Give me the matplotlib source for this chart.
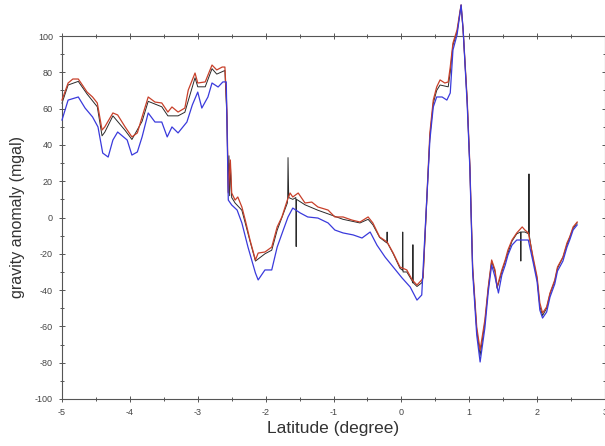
import numpy as np
import matplotlib.pyplot as plt
from matplotlib.ticker import MultipleLocator

plt.rcParams['font.family'] = ['Liberation Sans', 'DejaVu Sans']
plt.rcParams['axes.unicode_minus'] = False

# red profile (upper)
red_lat = [-5.0, -4.91, -4.84, -4.76, -4.70, -4.63, -4.55, -4.48, -4.41, -4.37,
           -4.25, -4.18, -4.07, -3.97, -3.89, -3.82, -3.73, -3.63, -3.53, -3.44,
           -3.38, -3.29, -3.19, -3.14, -3.04, -3.00, -2.89, -2.79, -2.72, -2.64,
           -2.60, -2.57, -2.55, -2.52, -2.50, -2.45, -2.41, -2.35, -2.30, -2.23,
           -2.15, -2.11, -2.01, -1.91, -1.83, -1.76, -1.68, -1.64, -1.60, -1.52,
           -1.42, -1.32, -1.23, -1.08, -0.98, -0.86, -0.73, -0.61, -0.49, -0.42,
           -0.32, -0.21, -0.12, -0.02, 0.08, 0.16, 0.23, 0.30, 0.32, 0.42,
           0.47, 0.52, 0.57, 0.64, 0.69, 0.72, 0.76, 0.82, 0.86, 0.88,
           0.91, 0.97, 1.01, 1.05, 1.11, 1.16, 1.23, 1.28, 1.33, 1.38,
           1.41, 1.48, 1.53, 1.57, 1.63, 1.70, 1.78, 1.82, 1.87, 1.94,
           2.00, 2.04, 2.08, 2.14, 2.19, 2.26, 2.30, 2.38, 2.44, 2.48,
           2.53, 2.59]
red_val = [64.7, 74.1, 76.3, 76.3, 73.0, 69.1, 66.4, 63.1, 48.2, 49.9,
           57.6, 56.5, 49.9, 44.4, 46.6, 55.4, 66.4, 63.6, 63.1, 58.1,
           60.9, 58.1, 60.3, 70.2, 79.6, 74.1, 74.7, 84.0, 81.3, 82.9,
           82.9, 59.0, 13.5, 31.7, 13.5, 9.6, 11.3, 5.8, -1.4, -12.4,
           -23.4, -19.6, -19.0, -16.3, -5.2, 0.3, 9.6, 13.5, 11.3, 13.5,
           8.0, 8.5, 5.8, 4.1, 0.3, 0.3, -1.4, -2.5, 0.3, -3.0,
           -10.7, -13.5, -19.6, -27.3, -28.9, -34.4, -37.2, -34.4, -32.8, 46.6,
           64.7, 71.9, 75.8, 74.1, 74.7, 82.9, 96.1, 103.3, 112.7, 117.1,
           103.3, 64.7, 27.8, -27.3, -60.3, -73.0, -56.5, -38.3, -23.4, -28.9,
           -38.3, -28.9, -23.4, -17.9, -12.4, -8.5, -5.2, -6.9, -8.5, -21.8,
           -32.8, -47.1, -52.6, -49.3, -41.6, -34.4, -27.3, -21.8, -14.0, -10.7,
           -5.2, -2.5]

# blue profile (lower)
blue_lat = [-5.0, -4.91, -4.76, -4.66, -4.55, -4.47, -4.40, -4.32, -4.25, -4.18,
            -4.04, -3.97, -3.89, -3.82, -3.73, -3.63, -3.53, -3.45, -3.38, -3.29,
            -3.16, -3.08, -3.00, -2.94, -2.85, -2.79, -2.70, -2.63, -2.58, -2.55,
            -2.50, -2.42, -2.35, -2.26, -2.15, -2.11, -2.01, -1.91, -1.83, -1.74,
            -1.67, -1.60, -1.49, -1.38, -1.23, -1.08, -0.98, -0.86, -0.71, -0.58,
            -0.46, -0.36, -0.24, -0.12, 0.01, 0.13, 0.23, 0.30, 0.42, 0.47,
            0.52, 0.60, 0.67, 0.72, 0.76, 0.82, 0.86, 0.88, 0.91, 0.97,
            1.01, 1.05, 1.11, 1.16, 1.23, 1.28, 1.33, 1.38, 1.43, 1.48,
            1.53, 1.57, 1.63, 1.70, 1.79, 1.87, 1.94, 2.00, 2.04, 2.08,
            2.14, 2.19, 2.26, 2.30, 2.38, 2.44, 2.48, 2.53, 2.59]
blue_val = [53.7, 64.7, 66.4, 60.3, 55.4, 49.9, 35.5, 33.3, 42.7, 47.1,
            42.7, 34.4, 36.1, 44.4, 57.6, 52.6, 52.6, 44.4, 49.9, 46.6,
            52.6, 62.0, 69.1, 60.3, 66.4, 74.1, 71.9, 74.7, 74.7, 9.6,
            6.9, 4.1, -3.0, -16.3, -30.6, -34.4, -28.9, -28.9, -16.3, -6.9,
            0.3, 5.2, 2.5, 0.3, -0.3, -3.0, -6.9, -8.5, -9.6, -11.3,
            -8.0, -15.2, -21.8, -27.3, -33.3, -38.3, -45.5, -42.7, 42.7, 60.9,
            66.4, 66.4, 64.7, 68.6, 92.3, 100.6, 111.6, 117.1, 103.3, 62.0,
            26.2, -30.0, -64.7, -79.6, -60.9, -41.0, -26.2, -32.8, -41.6, -31.7,
            -26.2, -20.7, -15.2, -12.4, -12.4, -12.4, -24.5, -35.5, -51.0, -55.4,
            -52.1, -43.8, -36.6, -29.5, -24.0, -16.3, -12.4, -6.9, -4.1]

# black profile (middle, with spikes)
black_lat = [-5.0, -4.91, -4.76, -4.63, -4.48, -4.41, -4.37, -4.25, -4.07, -3.97,
             -3.82, -3.73, -3.53, -3.44, -3.29, -3.19, -3.04, -3.00, -2.89, -2.79,
             -2.72, -2.60, -2.57, -2.55, -2.54, -2.53, -2.52, -2.50, -2.45, -2.35,
             -2.23, -2.15, -2.01, -1.91, -1.83, -1.68, -1.675, -1.67, -1.66, -1.60,
             -1.555, -1.55, -1.545, -1.42, -1.23, -1.08, -0.86, -0.61, -0.49, -0.42,
             -0.32, -0.215, -0.21, -0.205, -0.12, -0.02, 0.015, 0.02, 0.025, 0.08,
             0.16, 0.165, 0.17, 0.175, 0.23, 0.30, 0.32, 0.42, 0.47, 0.52,
             0.57, 0.69, 0.72, 0.76, 0.82, 0.86, 0.88, 0.91, 0.97, 1.01,
             1.05, 1.11, 1.16, 1.23, 1.28, 1.33, 1.38, 1.41, 1.48, 1.53,
             1.63, 1.70, 1.755, 1.76, 1.765, 1.82, 1.875, 1.88, 1.885, 1.94,
             2.00, 2.04, 2.08, 2.14, 2.19, 2.26, 2.30, 2.38, 2.44, 2.48,
             2.53, 2.59]
black_val = [63, 73, 75, 68, 61, 45, 47, 56, 48, 43,
             53, 64, 61, 56, 56, 58, 77, 72, 72, 82,
             79, 81, 55, 14, 34, 12, 30, 11, 8, 4,
             -13, -24, -20, -18, -7, 8, 11, 33, 11, 10,
             11, -16, 10, 7, 4, 2, -1, -3, -1, -4,
             -11, -14, -8, -14, -20, -28, -29, -8, -30, -30,
             -35, -36, -15, -36, -38, -36, -33, 45, 63, 70,
             73, 72, 80, 95, 102, 112, 117, 103, 64, 27,
             -28, -62, -76, -58, -39, -24, -30, -39, -30, -24,
             -13, -9, -8, -24, -8, -8, -9, 24, -10, -23,
             -34, -49, -54, -50, -42, -35, -28, -22, -15, -11,
             -6, -3]

fig = plt.figure(figsize=(6.05, 4.46), dpi=100)
ax = fig.add_axes([62 / 605, 1 - 399 / 446, 543 / 605, 363 / 446])

ax.plot(black_lat, black_val, color='#2a2a2a', lw=0.7, clip_on=False, zorder=2)
ax.plot(red_lat, red_val, color='#c8402a', lw=0.9, clip_on=False, zorder=3)
ax.plot(blue_lat, blue_val, color='#3a3adc', lw=0.9, clip_on=False, zorder=3)

ax.set_xlim(-5, 3)
ax.set_ylim(-100, 100)
ax.xaxis.set_major_locator(MultipleLocator(1))
ax.xaxis.set_minor_locator(MultipleLocator(0.5))
ax.yaxis.set_major_locator(MultipleLocator(20))
ax.yaxis.set_minor_locator(MultipleLocator(10))
ax.tick_params(which='both', direction='inout', top=True, right=True,
               labelsize=6.5, labelcolor='#444444', color='#555555', width=0.7)
ax.tick_params(which='major', length=5, pad=4)
ax.tick_params(which='minor', length=3)
for s in ax.spines.values():
    s.set_color('#555555')
    s.set_linewidth(0.8)

ax.set_xlabel('Latitude (degree)', fontsize=12.5, color='#333333', labelpad=3)
ax.set_ylabel('gravity anomaly (mgal)', fontsize=11.5, color='#333333', labelpad=7)

fig.savefig('out.png', dpi=100)
